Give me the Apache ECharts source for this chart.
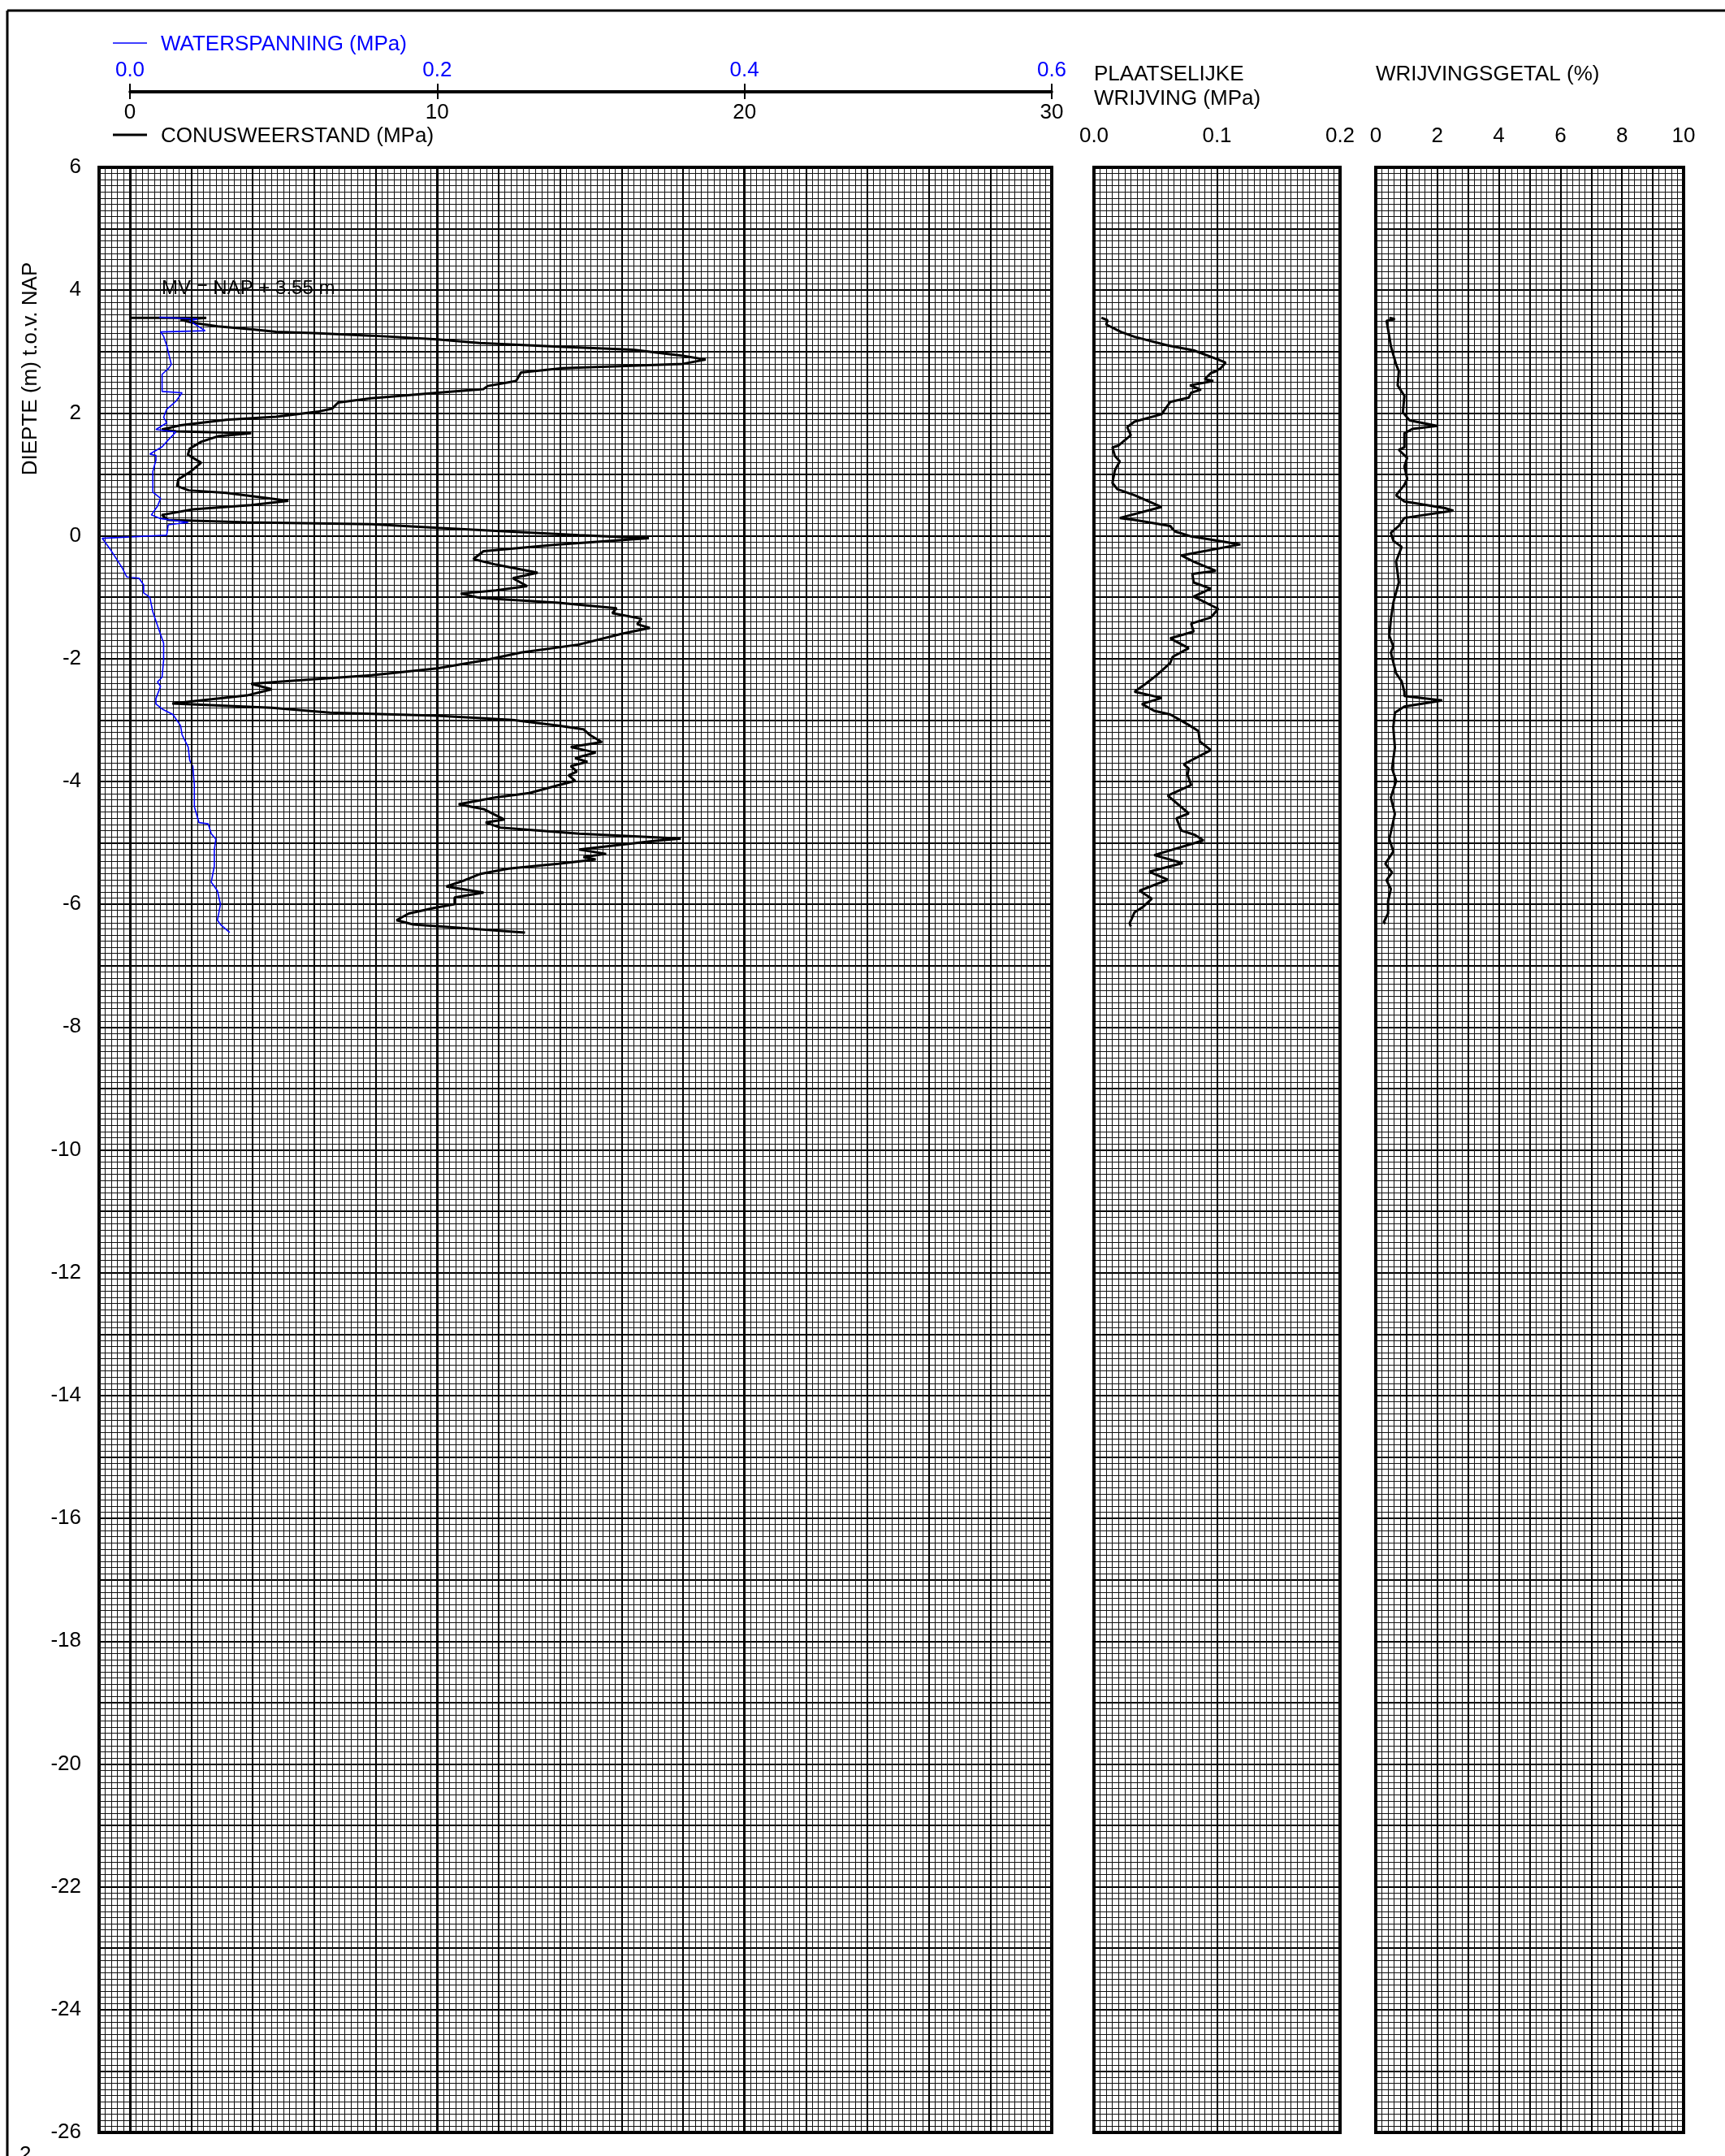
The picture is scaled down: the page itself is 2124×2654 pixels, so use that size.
<!DOCTYPE html>
<html><head><meta charset="utf-8">
<script src="https://cdn.jsdelivr.net/npm/echarts@6/dist/echarts.min.js"></script>
<style>html,body{margin:0;padding:0;background:#fff}#c{width:2124px;height:2654px}</style>
</head><body><div id="c"></div><script>
// ---- DATA (depth in m t.o.v. NAP) ----
const qcDepth = [3.55,3.55,3.52,3.47,3.41,3.36,3.32,3.30,3.26,3.20, 3.14,3.08,3.03,2.93,2.87,2.80,2.73,2.66,2.52,2.44, 2.39,2.33,2.24,2.17,2.07,2.02,1.94,1.89,1.80,1.73, 1.70,1.67,1.62,1.53,1.42,1.32,1.19,1.05,0.92,0.81, 0.74,0.70,0.57,0.50,0.43,0.34,0.26,0.22,0.19,0.13, 0.08,0.01,-0.04,-0.14,-0.25,-0.38,-0.47,-0.60,-0.69,-0.82, -0.89,-0.94,-1.01,-1.09,-1.18,-1.26,-1.35,-1.44,-1.50,-1.60, -1.77,-1.90,-2.03,-2.16,-2.27,-2.34,-2.41,-2.50,-2.60,-2.73, -2.80,-2.88,-2.93,-3.00,-3.09,-3.15,-3.24,-3.36,-3.44,-3.53, -3.62,-3.68,-3.75,-3.84,-3.90,-3.99,-4.06,-4.19,-4.26,-4.37, -4.45,-4.62,-4.67,-4.75,-4.85,-4.93,-4.97,-5.11,-5.18,-5.23, -5.27,-5.34,-5.42,-5.51,-5.62,-5.71,-5.81,-5.89,-6.00,-6.06, -6.15,-6.26,-6.33,-6.46];
const qcValue = [0.0,2.49,1.65,2.05,2.86,4.01,4.76,5.97,7.86,10.0, 11.38,13.95,16.38,18.0,18.74,18.0,14.08,12.73,12.57,11.65, 11.51,10.0,7.86,6.78,6.58,6.11,4.76,3.14,1.65,1.04, 1.51,3.95,2.86,2.32,1.95,1.89,2.32,1.99,1.58,1.54, 1.92,3.14,5.16,3.95,2.05,1.04,1.24,3.81,7.86,10.0, 11.92,14.62,16.89,13.95,11.51,11.18,11.92,13.27,12.46,12.93, 11.92,10.77,11.38,13.95,15.84,15.70,16.65,16.51,16.92,15.97, 14.62,12.73,11.51,10.0,7.86,5.84,3.95,4.62,3.81,1.38, 4.62,6.51,10.0,12.46,13.95,14.76,14.96,15.36,14.35,15.16, 14.49,14.89,14.35,14.55,14.28,14.49,13.95,13.0,11.92,10.70, 11.51,12.19,11.58,12.05,14.62,17.93,17.05,14.62,15.5,14.76, 15.16,13.95,12.32,11.38,10.84,10.30,11.51,10.57,10.57,9.89, 9.08,8.68,9.22,12.86];

const uDepth = [3.56,3.53,3.50,3.34,3.32,3.25,3.10,2.79,2.72,2.63, 2.35,2.33,2.19,2.06,1.93,1.84,1.73,1.69,1.56,1.45, 1.33,1.31,1.23,1.05,0.87,0.71,0.61,0.48,0.34,0.28, 0.22,0.18,0.01,-0.04,-0.21,-0.52,-0.67,-0.69,-0.80,-0.93, -1.00,-1.24,-1.46,-1.75,-2.03,-2.30,-2.38,-2.45,-2.65,-2.74, -2.82,-2.91,-3.09,-3.24,-3.44,-3.66,-3.75,-4.06,-4.41,-4.67, -4.69,-4.85,-4.94,-5.11,-5.38,-5.64,-5.78,-6.00,-6.26,-6.33, -6.46];
const uValue = [0.019,0.044,0.039,0.049,0.020,0.022,0.024,0.027,0.025,0.021, 0.021,0.034,0.030,0.024,0.022,0.024,0.017,0.030,0.025,0.021, 0.013,0.017,0.017,0.015,0.015,0.015,0.020,0.018,0.014,0.020, 0.038,0.025,0.024,-0.018,-0.013,-0.005,-0.002,0.006,0.009,0.009, 0.013,0.015,0.018,0.022,0.022,0.021,0.018,0.020,0.017,0.017, 0.021,0.028,0.033,0.034,0.038,0.039,0.041,0.042,0.042,0.045, 0.051,0.053,0.056,0.055,0.055,0.053,0.057,0.059,0.057,0.059, 0.065];

const fsDepth = [3.55,3.51,3.44,3.32,3.24,3.10,3.02,2.87,2.82,2.73, 2.68,2.65,2.55,2.52,2.45,2.38,2.33,2.25,2.18,2.04, 1.98,1.86,1.77,1.64,1.47,1.44,1.30,1.21,1.07,0.86, 0.76,0.66,0.47,0.29,0.26,0.16,0.11,0.07,-0.01,-0.14, -0.32,-0.42,-0.57,-0.62,-0.76,-0.86,-0.99,-1.19,-1.33,-1.43, -1.56,-1.67,-1.83,-1.97,-2.07,-2.27,-2.41,-2.54,-2.64,-2.74, -2.85,-2.91,-3.08,-3.18,-3.35,-3.49,-3.72,-3.79,-3.89,-4.06, -4.23,-4.52,-4.60,-4.80,-4.87,-4.96,-5.20,-5.33,-5.47,-5.60, -5.78,-5.91,-6.04,-6.13,-6.31,-6.36];
const fsValue = [0.006,0.011,0.010,0.022,0.033,0.060,0.081,0.101,0.107,0.103, 0.099,0.095,0.090,0.097,0.078,0.087,0.079,0.077,0.062,0.057, 0.055,0.033,0.027,0.030,0.020,0.015,0.017,0.021,0.017,0.015, 0.019,0.033,0.055,0.021,0.033,0.062,0.064,0.066,0.079,0.119, 0.071,0.081,0.099,0.080,0.081,0.095,0.081,0.101,0.095,0.079, 0.081,0.062,0.077,0.064,0.062,0.051,0.042,0.033,0.055,0.039, 0.049,0.062,0.077,0.085,0.086,0.095,0.073,0.077,0.076,0.079, 0.060,0.077,0.067,0.071,0.082,0.089,0.049,0.072,0.045,0.060, 0.037,0.047,0.040,0.033,0.029,0.030];

const rfDepth = [3.55,3.53,3.50,3.36,3.09,2.79,2.68,2.45,2.28,2.01, 1.88,1.79,1.74,1.67,1.44,1.40,1.27,1.13,0.93,0.83, 0.66,0.56,0.45,0.41,0.29,0.16,0.05,-0.08,-0.18,-0.42, -0.76,-0.92,-1.09,-1.36,-1.63,-1.80,-1.90,-2.24,-2.37,-2.54, -2.61,-2.68,-2.78,-2.88,-3.12,-3.45,-3.79,-3.99,-4.26,-4.53, -4.94,-5.14,-5.34,-5.48,-5.61,-5.75,-5.95,-6.15,-6.29,-6.32];
const rfValue = [0.44,0.62,0.35,0.40,0.49,0.66,0.75,0.71,0.93,0.88, 1.10,1.99,1.19,0.93,0.93,0.75,1.02,0.93,1.02,0.93, 0.66,0.93,2.25,2.52,0.93,0.75,0.49,0.57,0.84,0.66, 0.75,0.66,0.57,0.49,0.44,0.57,0.49,0.66,0.84,0.93, 0.93,2.16,0.93,0.62,0.57,0.62,0.53,0.66,0.49,0.62, 0.44,0.57,0.31,0.53,0.35,0.49,0.40,0.40,0.26,0.31];

// grid reference lines on the cone-resistance panel (MPa)
const qcMediumLines = [2,4,6,8,12,14,16,18,22,24,26,28];
const qcMajorLines = [0,10,20];
const groundLevelText = 'MV = NAP + 3.55 m';

// ---- CHART ----
const F = '"Liberation Sans", Arial, Helvetica, sans-serif';
const FS = 26;
const GRID = '#111';
const zip = (xs, ys) => ys.map((y, i) => [xs[i], y]);
const chart = echarts.init(document.getElementById('c'), null, {renderer: 'canvas'});

const plotTop = 206, plotH = 2419;
function depthAxis(g) {
  return {
    gridIndex: g, type: 'value', min: -26, max: 6, interval: 1,
    axisLine: {show: false, onZero: false}, axisTick: {show: false},
    axisLabel: {show: g === 0, margin: 22, fontSize: FS, fontFamily: F, color: '#000',
      formatter: v => (Math.round(v) % 2 === 0 ? String(Math.round(v)) : '')},
    splitLine: {show: true, lineStyle: {color: '#000', width: 2}},
    minorTick: {show: false, splitNumber: 10},
    minorSplitLine: {show: true, lineStyle: {color: GRID, width: 1}}
  };
}

const option = {
  animation: false,
  backgroundColor: '#fff',
  grid: [
    {left: 122, top: plotTop, width: 1173, height: plotH, show: true, borderColor: '#000', borderWidth: 4, backgroundColor: 'transparent'},
    {left: 1347, top: plotTop, width: 303, height: plotH, show: true, borderColor: '#000', borderWidth: 4, backgroundColor: 'transparent'},
    {left: 1694, top: plotTop, width: 379, height: plotH, show: true, borderColor: '#000', borderWidth: 4, backgroundColor: 'transparent'},
    {left: 160, top: 112, width: 1135, height: 1, show: false}
  ],
  xAxis: [
    {gridIndex: 0, type: 'value', min: -1, max: 30, interval: 1, position: 'top',
      axisLine: {show: false, onZero: false}, axisTick: {show: false}, axisLabel: {show: false},
      splitLine: {show: true, lineStyle: {color: GRID, width: 1}},
      minorTick: {show: false, splitNumber: 5},
      minorSplitLine: {show: true, lineStyle: {color: GRID, width: 1}}},
    {gridIndex: 0, type: 'value', min: -0.02, max: 0.6, show: false, axisLine: {onZero: false}},
    {gridIndex: 1, type: 'value', min: 0, max: 0.2, interval: 0.1, position: 'top',
      axisLine: {show: false, onZero: false}, axisTick: {show: false},
      axisLabel: {show: true, margin: 25, fontSize: FS, fontFamily: F, color: '#000', formatter: v => v.toFixed(1), showMinLabel: true, showMaxLabel: true},
      splitLine: {show: true, lineStyle: {color: '#000', width: 2}},
      minorTick: {show: false, splitNumber: 20},
      minorSplitLine: {show: true, lineStyle: {color: GRID, width: 1}}},
    {gridIndex: 2, type: 'value', min: 0, max: 10, interval: 1, position: 'top',
      axisLine: {show: false, onZero: false}, axisTick: {show: false},
      axisLabel: {show: true, margin: 25, fontSize: FS, fontFamily: F, color: '#000', formatter: v => (Math.round(v) % 2 === 0 ? String(Math.round(v)) : ''), showMinLabel: true, showMaxLabel: true},
      splitLine: {show: true, lineStyle: {color: '#000', width: 2}},
      minorTick: {show: false, splitNumber: 5},
      minorSplitLine: {show: true, lineStyle: {color: GRID, width: 1}}},
    {gridIndex: 3, type: 'value', min: 0, max: 0.6, interval: 0.2, position: 'top',
      axisLine: {show: true, onZero: false, lineStyle: {color: '#000', width: 3}},
      axisTick: {show: true, length: 9, lineStyle: {color: '#000', width: 2}},
      axisLabel: {show: true, margin: 12, fontSize: FS, fontFamily: F, color: '#0000ff', formatter: v => v.toFixed(1), showMinLabel: true, showMaxLabel: true},
      splitLine: {show: false}},
    {gridIndex: 3, type: 'value', min: 0, max: 30, interval: 10, position: 'bottom',
      axisLine: {show: true, onZero: false, lineStyle: {color: '#000', width: 3}},
      axisTick: {show: true, length: 9, lineStyle: {color: '#000', width: 2}},
      axisLabel: {show: true, margin: 13, fontSize: FS, fontFamily: F, color: '#000', showMinLabel: true, showMaxLabel: true},
      splitLine: {show: false}}
  ],
  yAxis: [depthAxis(0), depthAxis(1), depthAxis(2),
    {gridIndex: 3, type: 'value', min: 0, max: 1, show: false, axisLine: {onZero: false}}],
  series: [
    {type: 'line', name: 'raster', xAxisIndex: 0, yAxisIndex: 0, data: [], z: 1, silent: true,
      markLine: {silent: true, symbol: ['none', 'none'], animation: false, label: {show: false},
        emphasis: {disabled: true},
        lineStyle: {color: '#000', type: 'solid', width: 2},
        data: qcMediumLines.map(v => ({xAxis: v, lineStyle: {color: '#000', type: 'solid', width: 2}}))
          .concat(qcMajorLines.map(v => ({xAxis: v, lineStyle: {color: '#000', type: 'solid', width: 3}})))}},
    {type: 'line', name: 'CONUSWEERSTAND (MPa)', xAxisIndex: 0, yAxisIndex: 0, data: zip(qcValue, qcDepth),
      symbol: 'none', lineStyle: {color: '#000', width: 3}, z: 3},
    {type: 'line', name: 'WATERSPANNING (MPa)', xAxisIndex: 1, yAxisIndex: 0, data: zip(uValue, uDepth),
      symbol: 'none', lineStyle: {color: '#0000ff', width: 1.6}, z: 4},
    {type: 'line', name: 'PLAATSELIJKE WRIJVING (MPa)', xAxisIndex: 2, yAxisIndex: 1, data: zip(fsValue, fsDepth),
      symbol: 'none', lineStyle: {color: '#000', width: 3}, z: 3},
    {type: 'line', name: 'WRIJVINGSGETAL (%)', xAxisIndex: 3, yAxisIndex: 2, data: zip(rfValue, rfDepth),
      symbol: 'none', lineStyle: {color: '#000', width: 3}, z: 3}
  ],
  graphic: {elements: [
    {type: 'line', shape: {x1: 9, y1: 13, x2: 2124, y2: 13}, style: {stroke: '#000', lineWidth: 3}},
    {type: 'line', shape: {x1: 9, y1: 13, x2: 9, y2: 2654}, style: {stroke: '#000', lineWidth: 3}},
    {type: 'line', shape: {x1: 139, y1: 53, x2: 181, y2: 53}, style: {stroke: '#0000ff', lineWidth: 1.5}},
    {type: 'text', x: 198, y: 55, style: {text: 'WATERSPANNING (MPa)', fill: '#0000ff', font: FS + 'px ' + F, align: 'left', verticalAlign: 'middle'}},
    {type: 'line', shape: {x1: 139, y1: 166, x2: 181, y2: 166}, style: {stroke: '#000', lineWidth: 3}},
    {type: 'text', x: 198, y: 168, style: {text: 'CONUSWEERSTAND (MPa)', fill: '#000', font: FS + 'px ' + F, align: 'left', verticalAlign: 'middle'}},
    {type: 'text', x: 1347, y: 92, style: {text: 'PLAATSELIJKE', fill: '#000', font: FS + 'px ' + F, align: 'left', verticalAlign: 'middle'}},
    {type: 'text', x: 1347, y: 122, style: {text: 'WRIJVING (MPa)', fill: '#000', font: FS + 'px ' + F, align: 'left', verticalAlign: 'middle'}},
    {type: 'text', x: 1694, y: 92, style: {text: 'WRIJVINGSGETAL (%)', fill: '#000', font: FS + 'px ' + F, align: 'left', verticalAlign: 'middle'}},
    {type: 'text', x: 38, y: 454, rotation: Math.PI / 2, style: {text: 'DIEPTE (m) t.o.v. NAP', fill: '#000', font: FS + 'px ' + F, align: 'center', verticalAlign: 'middle'}},
    {type: 'text', x: 199, y: 355, z: 10, style: {text: groundLevelText, fill: '#000', font: '24px ' + F, align: 'left', verticalAlign: 'middle'}},
    {type: 'text', x: 24, y: 2640, style: {text: '2', fill: '#000', font: FS + 'px ' + F, align: 'left', verticalAlign: 'top'}}
  ]}
};
chart.setOption(option);
</script></body></html>
